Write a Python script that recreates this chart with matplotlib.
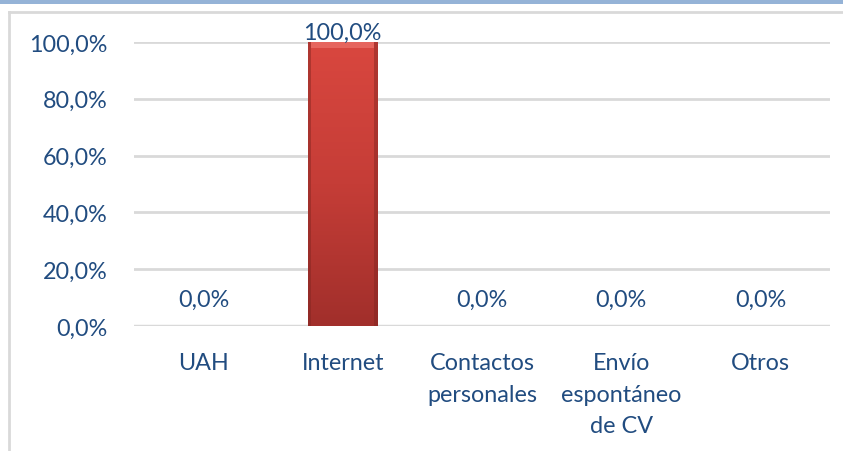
import matplotlib
matplotlib.use("Agg")
import matplotlib.pyplot as plt
import numpy as np
from matplotlib.patches import Rectangle
from matplotlib.lines import Line2D
from matplotlib.colors import LinearSegmentedColormap

categories = ["UAH", "Internet", "Contactos\npersonales", "Envío\nespontáneo\nde CV", "Otros"]
values = [0.0, 100.0, 0.0, 0.0, 0.0]
yticks = [0, 20, 40, 60, 80, 100]

TXT = "#214C80"
GRID = "#D9D9D9"
FONT = "Lato"
FS = 16.8

fig = plt.figure(figsize=(8.43, 4.52), dpi=100)
fig.patch.set_facecolor("white")

# top blue band and outer chart frame
fig.patches.append(Rectangle((0, 1 - 4.5 / 452), 1, 4.5 / 452, transform=fig.transFigure,
                             facecolor="#95B3D7", edgecolor="none"))
fig.lines.append(Line2D([9 / 843, 1.0], [1 - 13 / 452, 1 - 13 / 452], transform=fig.transFigure,
                        color=GRID, lw=2))
fig.lines.append(Line2D([9 / 843, 9 / 843], [0, 1 - 13 / 452], transform=fig.transFigure,
                        color=GRID, lw=2))

ax = fig.add_axes([134 / 843, 1 - 327 / 452, (830 - 134) / 843, (327 - 43) / 452])
x = np.arange(len(categories))

for s in ax.spines.values():
    s.set_visible(False)
ax.yaxis.grid(True, color=GRID, lw=2)
ax.set_axisbelow(True)
ax.axhline(0, color=GRID, lw=2.5, zorder=1)

bars = ax.bar(x, values, width=0.5, color="#C0392F", edgecolor="none", zorder=2)

# gradient + bevel on bars
grad = np.linspace(0, 1, 256).reshape(-1, 1)
cmap = LinearSegmentedColormap.from_list("r", ["#A12F2B", "#C53D37", "#D9473F"])
for b in bars:
    h = b.get_height()
    if h <= 0:
        continue
    x0, w = b.get_x(), b.get_width()
    im = ax.imshow(grad, extent=(x0, x0 + w, 0, h), origin="lower", cmap=cmap,
                   aspect="auto", zorder=3)
    im.set_clip_path(b)
    ax.add_patch(Rectangle((x0, 0), w * 0.05, h, facecolor="#7E2420", alpha=0.45,
                           edgecolor="none", zorder=4))
    ax.add_patch(Rectangle((x0 + w * 0.95, 0), w * 0.05, h, facecolor="#7E2420", alpha=0.45,
                           edgecolor="none", zorder=4))
    ax.add_patch(Rectangle((x0 + w * 0.05, h - 2.2), w * 0.9, 2.2, facecolor="#F07A72",
                           alpha=0.6, edgecolor="none", zorder=4))
ax.set_xlim(-0.5, len(categories) - 0.5)
ax.set_ylim(0, 100)

for xi, v in zip(x, values):
    off = 10 if v >= 50 else 27
    ax.annotate(f"{v:.1f}%".replace(".", ","), (xi, v), xytext=(0, off),
                textcoords="offset pixels", ha="center", va="center",
                fontsize=FS, color=TXT, family=FONT, zorder=6, annotation_clip=False)

ax.set_yticks(yticks)
ax.set_yticklabels([f"{t:.1f}%".replace(".", ",") for t in yticks])
ax.set_xticks(x)
ax.set_xticklabels(categories, linespacing=1.6)
ax.tick_params(axis="both", length=0, colors=TXT, labelsize=FS)
ax.tick_params(axis="y", pad=19)
ax.tick_params(axis="x", pad=19)
for lab in ax.get_xticklabels() + ax.get_yticklabels():
    lab.set_family(FONT)
    lab.set_color(TXT)

fig.savefig("out.png", dpi=100)
